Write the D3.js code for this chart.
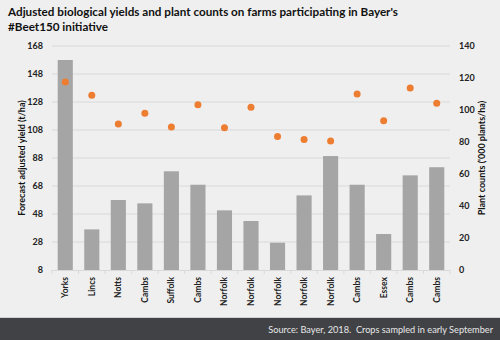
<!DOCTYPE html>
<html>
<head>
<meta charset="utf-8">
<script src="https://cdn.jsdelivr.net/npm/d3@7"></script>
<style>
  body { margin: 0; background: #efefef; }
  text { font-family: Lato, "Open Sans", sans-serif; }
</style>
</head>
<body>
<div id="vis"></div>
<script>
// data
var farms = ["Yorks","Lincs","Notts","Cambs","Suffolk","Cambs","Norfolk","Norfolk","Norfolk","Norfolk","Norfolk","Cambs","Essex","Cambs","Cambs"]
var yields = [158, 37, 58, 55.6, 78.5, 68.9, 50.6, 43, 27.5, 61.3, 89.4, 68.9, 33.7, 75.6, 81.4]
var plantCounts = [117.5, 109.2, 91.3, 97.9, 89.4, 103.3, 88.9, 101.7, 83.5, 81.5, 80.6, 110, 93.3, 113.8, 104.2]
var yieldTicks = [8, 28, 48, 68, 88, 108, 128, 148, 168]
var countTicks = [0, 20, 40, 60, 80, 100, 120, 140]

var width = 500, height = 340
var plotL = 52, plotR = 450, plotT = 46, plotB = 270

var x = d3.scaleBand()
  .domain(d3.range(farms.length))
  .range([plotL, plotR])
  .paddingInner(0.43)
  .paddingOuter(0.215)

var yL = d3.scaleLinear().domain([8, 168]).range([plotB, plotT])
var yR = d3.scaleLinear().domain([0, 140]).range([plotB, plotT])

var svg = d3.select("#vis").append("svg")
  .attr("width", width)
  .attr("height", height)

svg.append("rect").attr("width", width).attr("height", height).attr("fill", "#efefef")

// title
var title = svg.append("text")
  .attr("x", 8).attr("y", 16)
  .style("font-size", "11.7px").style("font-weight", "bold").attr("fill", "#111")
title.append("tspan").attr("x", 8).text("Adjusted biological yields and plant counts on farms participating in Bayer's")
title.append("tspan").attr("x", 8).attr("dy", 15).text("#Beet150 initiative")

// gridlines
svg.append("g").selectAll("line")
  .data(yieldTicks.slice(1))
  .enter().append("line")
  .attr("x1", plotL).attr("x2", plotR)
  .attr("y1", d => yL(d)).attr("y2", d => yL(d))
  .attr("stroke", "#d9d9d9").attr("stroke-width", 1)

// bars
svg.append("g").selectAll("rect")
  .data(yields)
  .enter().append("rect")
  .attr("x", (d, i) => x(i))
  .attr("width", x.bandwidth())
  .attr("y", d => yL(d))
  .attr("height", d => yL(8) - yL(d))
  .attr("fill", "#a5a5a5")

// baseline + category ticks
svg.append("line")
  .attr("x1", plotL).attr("x2", plotR)
  .attr("y1", plotB + 0.5).attr("y2", plotB + 0.5)
  .attr("stroke", "#d9d9d9")
svg.append("g").selectAll("line")
  .data(d3.range(farms.length + 1))
  .enter().append("line")
  .attr("x1", i => plotL + i * x.step()).attr("x2", i => plotL + i * x.step())
  .attr("y1", plotB).attr("y2", plotB + 4)
  .attr("stroke", "#d9d9d9")

// dots
svg.append("g").selectAll("circle")
  .data(plantCounts)
  .enter().append("circle")
  .attr("cx", (d, i) => x(i) + x.bandwidth() / 2)
  .attr("cy", d => yR(d))
  .attr("r", 3.5)
  .attr("fill", "#ed7d31")

// left axis
var axL = svg.append("g")
  .attr("transform", `translate(${plotL - 9},0)`)
  .call(d3.axisLeft(yL).tickValues(yieldTicks).tickSize(0).tickPadding(0))
axL.select(".domain").remove()
axL.selectAll("text").style("font-size", "9px").style("font-weight", "bold").attr("fill", "#222")
  .style("font-family", "Lato, sans-serif")

svg.append("text")
  .attr("transform", `translate(25,${(plotT + plotB) / 2}) rotate(-90)`)
  .style("text-anchor", "middle")
  .style("font-size", "9px").style("font-weight", "bold").attr("fill", "#111")
  .text("Forecast adjusted yield (t/ha)")

// right axis
var axR = svg.append("g")
  .attr("transform", `translate(${plotR + 9},0)`)
  .call(d3.axisRight(yR).tickValues(countTicks).tickSize(0).tickPadding(0))
axR.select(".domain").remove()
axR.selectAll("text").style("font-size", "9px").style("font-weight", "bold").attr("fill", "#222")
  .style("font-family", "Lato, sans-serif")

svg.append("text")
  .attr("transform", `translate(485,${(plotT + plotB) / 2}) rotate(-90)`)
  .style("text-anchor", "middle")
  .style("font-size", "9px").style("font-weight", "bold").attr("fill", "#111")
  .text("Plant counts ('000 plants/ha)")

// category labels
svg.append("g").selectAll("text")
  .data(farms)
  .enter().append("text")
  .attr("transform", (d, i) => `translate(${x(i) + x.bandwidth() / 2 + 3},277) rotate(-90)`)
  .style("text-anchor", "end")
  .style("font-size", "8.5px").style("font-weight", "bold").attr("fill", "#222")
  .text(d => d)

// footer
svg.append("rect")
  .attr("x", 0).attr("y", 318).attr("width", width).attr("height", 22)
  .attr("fill", "#404246")
svg.append("line")
  .attr("x1", 0).attr("x2", width).attr("y1", 317.5).attr("y2", 317.5)
  .attr("stroke", "#d0d0d0")
svg.append("text")
  .attr("x", 493).attr("y", 333)
  .style("text-anchor", "end")
  .style("white-space", "pre")
  .style("font-size", "9.2px").attr("fill", "#e8e8e8")
  .text("Source: Bayer, 2018.  Crops sampled in early September")
</script>
</body>
</html>
